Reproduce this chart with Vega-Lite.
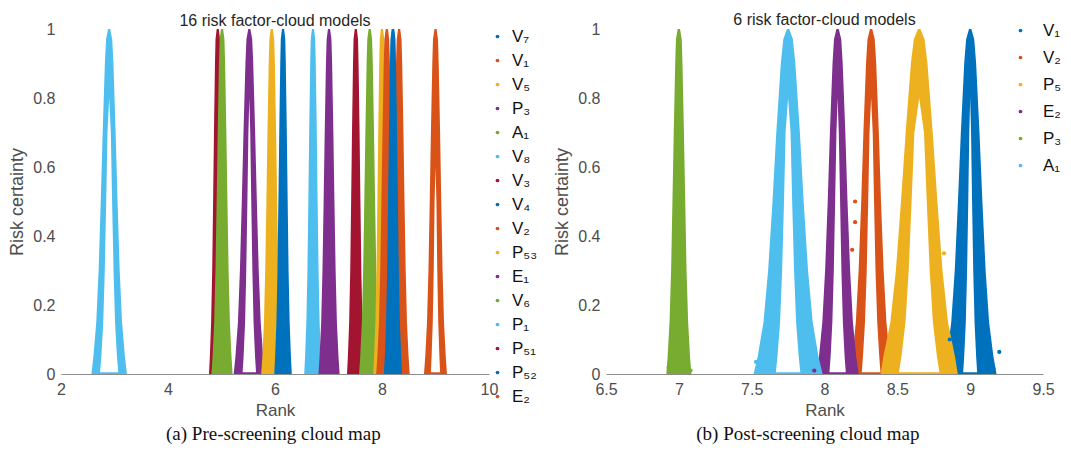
{
  "$schema": "https://vega.github.io/schema/vega-lite/v6.json",
  "background": "white",
  "padding": {"left": 8, "top": 12, "right": 0, "bottom": 0},
  "config": {
    "view": {"stroke": null},
    "axis": {"grid": false, "domainColor": "#8c8c8c", "tickColor": "#8c8c8c", "labelColor": "#4d4d4d", "titleColor": "#4d4d4d", "labelFont": "Liberation Sans", "titleFont": "Liberation Sans", "labelFontSize": 16, "titleFontSize": 17, "titleFontWeight": "normal"},
    "axisY": {"domain": false, "ticks": false, "labelPadding": 6, "titlePadding": 6, "titleFontSize": 18},
    "axisX": {"ticks": false, "labelPadding": 7, "titlePadding": 5, "labelFlush": false},
    "legend": {"title": null, "symbolType": "circle", "symbolSize": 14, "symbolStrokeWidth": 0, "labelFont": "Liberation Sans", "labelFontSize": 17, "labelColor": "#111111", "padding": 0},
    "title": {"font": "Liberation Sans", "fontSize": 16, "fontWeight": "normal", "color": "#262626"}
  },
  "datasets": {
    "A": [
      {"s":"V₈","y":1,"l":2.88,"h":2.92},{"s":"V₈","y":0.97,"l":2.843,"h":2.957},{"s":"V₈","y":0.9,"l":2.82,"h":2.98},{"s":"V₈","y":0.7,"l":2.779,"h":3.021},{"s":"V₈","y":0.5,"l":2.743,"h":3.057},{"s":"V₈","y":0.3,"l":2.703,"h":3.097},{"s":"V₈","y":0.15,"l":2.659,"h":3.141},{"s":"V₈","y":0.05,"l":2.605,"h":3.195},{"s":"V₈","y":0,"l":2.568,"h":3.232},
      {"s":"V₃","y":1,"l":4.91,"h":4.95},{"s":"V₃","y":0.97,"l":4.888,"h":4.972},{"s":"V₃","y":0.9,"l":4.878,"h":4.982},{"s":"V₃","y":0.7,"l":4.859,"h":5.001},{"s":"V₃","y":0.5,"l":4.843,"h":5.017},{"s":"V₃","y":0.3,"l":4.826,"h":5.034},{"s":"V₃","y":0.15,"l":4.806,"h":5.054},{"s":"V₃","y":0.05,"l":4.782,"h":5.078},{"s":"V₃","y":0,"l":4.766,"h":5.094},
      {"s":"A₁","y":1,"l":4.99,"h":5.03},{"s":"A₁","y":0.97,"l":4.965,"h":5.055},{"s":"A₁","y":0.9,"l":4.952,"h":5.068},{"s":"A₁","y":0.7,"l":4.929,"h":5.091},{"s":"A₁","y":0.5,"l":4.909,"h":5.111},{"s":"A₁","y":0.3,"l":4.887,"h":5.133},{"s":"A₁","y":0.15,"l":4.863,"h":5.157},{"s":"A₁","y":0.05,"l":4.833,"h":5.187},{"s":"A₁","y":0,"l":4.812,"h":5.208},
      {"s":"P₃","y":1,"l":5.5,"h":5.54},{"s":"P₃","y":0.97,"l":5.466,"h":5.574},{"s":"P₃","y":0.9,"l":5.447,"h":5.593},{"s":"P₃","y":0.7,"l":5.411,"h":5.629},{"s":"P₃","y":0.5,"l":5.379,"h":5.661},{"s":"P₃","y":0.3,"l":5.344,"h":5.696},{"s":"P₃","y":0.15,"l":5.307,"h":5.733},{"s":"P₃","y":0.05,"l":5.26,"h":5.78},{"s":"P₃","y":0,"l":5.227,"h":5.813},
      {"s":"V₅","y":1,"l":5.92,"h":5.96},{"s":"V₅","y":0.97,"l":5.895,"h":5.985},{"s":"V₅","y":0.9,"l":5.882,"h":5.998},{"s":"V₅","y":0.7,"l":5.859,"h":6.021},{"s":"V₅","y":0.5,"l":5.839,"h":6.041},{"s":"V₅","y":0.3,"l":5.817,"h":6.063},{"s":"V₅","y":0.15,"l":5.793,"h":6.087},{"s":"V₅","y":0.05,"l":5.763,"h":6.117},{"s":"V₅","y":0,"l":5.742,"h":6.138},
      {"s":"V₇","y":1,"l":6.13,"h":6.17},{"s":"V₇","y":0.97,"l":6.108,"h":6.192},{"s":"V₇","y":0.9,"l":6.098,"h":6.202},{"s":"V₇","y":0.7,"l":6.079,"h":6.221},{"s":"V₇","y":0.5,"l":6.063,"h":6.237},{"s":"V₇","y":0.3,"l":6.046,"h":6.254},{"s":"V₇","y":0.15,"l":6.026,"h":6.274},{"s":"V₇","y":0.05,"l":6.002,"h":6.298},{"s":"V₇","y":0,"l":5.986,"h":6.314},
      {"s":"P₁","y":1,"l":6.69,"h":6.73},{"s":"P₁","y":0.97,"l":6.668,"h":6.752},{"s":"P₁","y":0.9,"l":6.658,"h":6.762},{"s":"P₁","y":0.7,"l":6.639,"h":6.781},{"s":"P₁","y":0.5,"l":6.623,"h":6.797},{"s":"P₁","y":0.3,"l":6.606,"h":6.814},{"s":"P₁","y":0.15,"l":6.586,"h":6.834},{"s":"P₁","y":0.05,"l":6.562,"h":6.858},{"s":"P₁","y":0,"l":6.546,"h":6.874},
      {"s":"E₁","y":1,"l":6.99,"h":7.03},{"s":"E₁","y":0.97,"l":6.965,"h":7.055},{"s":"E₁","y":0.9,"l":6.952,"h":7.068},{"s":"E₁","y":0.7,"l":6.929,"h":7.091},{"s":"E₁","y":0.5,"l":6.909,"h":7.111},{"s":"E₁","y":0.3,"l":6.887,"h":7.133},{"s":"E₁","y":0.15,"l":6.863,"h":7.157},{"s":"E₁","y":0.05,"l":6.833,"h":7.187},{"s":"E₁","y":0,"l":6.812,"h":7.208},
      {"s":"P₅₁","y":1,"l":7.49,"h":7.53},{"s":"P₅₁","y":0.97,"l":7.468,"h":7.552},{"s":"P₅₁","y":0.9,"l":7.458,"h":7.562},{"s":"P₅₁","y":0.7,"l":7.439,"h":7.581},{"s":"P₅₁","y":0.5,"l":7.423,"h":7.597},{"s":"P₅₁","y":0.3,"l":7.406,"h":7.614},{"s":"P₅₁","y":0.15,"l":7.386,"h":7.634},{"s":"P₅₁","y":0.05,"l":7.362,"h":7.658},{"s":"P₅₁","y":0,"l":7.346,"h":7.674},
      {"s":"V₆","y":1,"l":7.75,"h":7.79},{"s":"V₆","y":0.97,"l":7.725,"h":7.815},{"s":"V₆","y":0.9,"l":7.712,"h":7.828},{"s":"V₆","y":0.7,"l":7.689,"h":7.851},{"s":"V₆","y":0.5,"l":7.669,"h":7.871},{"s":"V₆","y":0.3,"l":7.647,"h":7.893},{"s":"V₆","y":0.15,"l":7.623,"h":7.917},{"s":"V₆","y":0.05,"l":7.593,"h":7.947},{"s":"V₆","y":0,"l":7.572,"h":7.968},
      {"s":"P₅₃","y":1,"l":7.98,"h":8.02},{"s":"P₅₃","y":0.97,"l":7.958,"h":8.042},{"s":"P₅₃","y":0.9,"l":7.948,"h":8.052},{"s":"P₅₃","y":0.7,"l":7.929,"h":8.071},{"s":"P₅₃","y":0.5,"l":7.913,"h":8.087},{"s":"P₅₃","y":0.3,"l":7.896,"h":8.104},{"s":"P₅₃","y":0.15,"l":7.876,"h":8.124},{"s":"P₅₃","y":0.05,"l":7.852,"h":8.148},{"s":"P₅₃","y":0,"l":7.836,"h":8.164},
      {"s":"V₁","y":1,"l":8.07,"h":8.11},{"s":"V₁","y":0.97,"l":8.045,"h":8.135},{"s":"V₁","y":0.9,"l":8.032,"h":8.148},{"s":"V₁","y":0.7,"l":8.009,"h":8.171},{"s":"V₁","y":0.5,"l":7.989,"h":8.191},{"s":"V₁","y":0.3,"l":7.967,"h":8.213},{"s":"V₁","y":0.15,"l":7.943,"h":8.237},{"s":"V₁","y":0.05,"l":7.913,"h":8.267},{"s":"V₁","y":0,"l":7.892,"h":8.288},
      {"s":"V₂","y":1,"l":8.3,"h":8.34},{"s":"V₂","y":0.97,"l":8.275,"h":8.365},{"s":"V₂","y":0.9,"l":8.262,"h":8.378},{"s":"V₂","y":0.7,"l":8.239,"h":8.401},{"s":"V₂","y":0.5,"l":8.219,"h":8.421},{"s":"V₂","y":0.3,"l":8.197,"h":8.443},{"s":"V₂","y":0.15,"l":8.173,"h":8.467},{"s":"V₂","y":0.05,"l":8.143,"h":8.497},{"s":"V₂","y":0,"l":8.122,"h":8.518},
      {"s":"P₅₂","y":1,"l":8.18,"h":8.22},{"s":"P₅₂","y":0.97,"l":8.158,"h":8.242},{"s":"P₅₂","y":0.9,"l":8.148,"h":8.252},{"s":"P₅₂","y":0.7,"l":8.129,"h":8.271},{"s":"P₅₂","y":0.5,"l":8.113,"h":8.287},{"s":"P₅₂","y":0.3,"l":8.096,"h":8.304},{"s":"P₅₂","y":0.15,"l":8.076,"h":8.324},{"s":"P₅₂","y":0.05,"l":8.052,"h":8.348},{"s":"P₅₂","y":0,"l":8.036,"h":8.364},
      {"s":"V₄","y":1,"l":8.19,"h":8.23},{"s":"V₄","y":0.97,"l":8.168,"h":8.252},{"s":"V₄","y":0.9,"l":8.158,"h":8.262},{"s":"V₄","y":0.7,"l":8.139,"h":8.281},{"s":"V₄","y":0.5,"l":8.123,"h":8.297},{"s":"V₄","y":0.3,"l":8.106,"h":8.314},{"s":"V₄","y":0.15,"l":8.086,"h":8.334},{"s":"V₄","y":0.05,"l":8.062,"h":8.358},{"s":"V₄","y":0,"l":8.046,"h":8.374},
      {"s":"E₂","y":1,"l":8.98,"h":9.02},{"s":"E₂","y":0.97,"l":8.953,"h":9.047},{"s":"E₂","y":0.9,"l":8.94,"h":9.06},{"s":"E₂","y":0.7,"l":8.914,"h":9.086},{"s":"E₂","y":0.5,"l":8.892,"h":9.108},{"s":"E₂","y":0.3,"l":8.868,"h":9.132},{"s":"E₂","y":0.15,"l":8.841,"h":9.159},{"s":"E₂","y":0.05,"l":8.808,"h":9.192},{"s":"E₂","y":0,"l":8.785,"h":9.215}
    ],
    "AH": [
      {"s":"V₈","y":0.8,"l":2.9,"h":2.9},{"s":"V₈","y":0.7,"l":2.869,"h":2.931},{"s":"V₈","y":0.5,"l":2.845,"h":2.955},{"s":"V₈","y":0.3,"l":2.818,"h":2.982},{"s":"V₈","y":0.15,"l":2.79,"h":3.01},{"s":"V₈","y":0.05,"l":2.754,"h":3.046},{"s":"V₈","y":0.005,"l":2.73,"h":3.07},
      {"s":"P₃","y":0.8,"l":5.52,"h":5.52},{"s":"P₃","y":0.7,"l":5.503,"h":5.537},{"s":"P₃","y":0.5,"l":5.484,"h":5.556},{"s":"P₃","y":0.3,"l":5.463,"h":5.577},{"s":"P₃","y":0.15,"l":5.441,"h":5.599},{"s":"P₃","y":0.05,"l":5.413,"h":5.627},{"s":"P₃","y":0.005,"l":5.395,"h":5.645},
      {"s":"E₂","y":0.6,"l":9.0,"h":9.0},{"s":"E₂","y":0.5,"l":8.983,"h":9.017},{"s":"E₂","y":0.3,"l":8.967,"h":9.033},{"s":"E₂","y":0.15,"l":8.949,"h":9.051},{"s":"E₂","y":0.05,"l":8.927,"h":9.073},{"s":"E₂","y":0.005,"l":8.914,"h":9.086}
    ],
    "B": [
      {"s":"V₁","y":1,"l":8.992,"h":9.008},{"s":"V₁","y":0.97,"l":8.972,"h":9.028},{"s":"V₁","y":0.9,"l":8.959,"h":9.041},{"s":"V₁","y":0.7,"l":8.936,"h":9.064},{"s":"V₁","y":0.5,"l":8.916,"h":9.084},{"s":"V₁","y":0.3,"l":8.894,"h":9.106},{"s":"V₁","y":0.15,"l":8.87,"h":9.13},{"s":"V₁","y":0.05,"l":8.84,"h":9.16},{"s":"V₁","y":0,"l":8.819,"h":9.181},
      {"s":"V₂","y":1,"l":8.312,"h":8.328},{"s":"V₂","y":0.97,"l":8.295,"h":8.345},{"s":"V₂","y":0.9,"l":8.285,"h":8.355},{"s":"V₂","y":0.7,"l":8.267,"h":8.373},{"s":"V₂","y":0.5,"l":8.252,"h":8.388},{"s":"V₂","y":0.3,"l":8.234,"h":8.406},{"s":"V₂","y":0.15,"l":8.215,"h":8.425},{"s":"V₂","y":0.05,"l":8.192,"h":8.448},{"s":"V₂","y":0,"l":8.175,"h":8.465},
      {"s":"P₅","y":1,"l":8.642,"h":8.658},{"s":"P₅","y":0.97,"l":8.613,"h":8.687},{"s":"P₅","y":0.9,"l":8.593,"h":8.707},{"s":"P₅","y":0.7,"l":8.557,"h":8.743},{"s":"P₅","y":0.5,"l":8.525,"h":8.775},{"s":"P₅","y":0.3,"l":8.49,"h":8.81},{"s":"P₅","y":0.15,"l":8.452,"h":8.848},{"s":"P₅","y":0.05,"l":8.404,"h":8.896},{"s":"P₅","y":0,"l":8.385,"h":8.915},
      {"s":"E₂","y":1,"l":8.082,"h":8.098},{"s":"E₂","y":0.97,"l":8.065,"h":8.115},{"s":"E₂","y":0.9,"l":8.055,"h":8.125},{"s":"E₂","y":0.7,"l":8.037,"h":8.143},{"s":"E₂","y":0.5,"l":8.022,"h":8.158},{"s":"E₂","y":0.3,"l":8.004,"h":8.176},{"s":"E₂","y":0.15,"l":7.985,"h":8.195},{"s":"E₂","y":0.05,"l":7.962,"h":8.218},{"s":"E₂","y":0,"l":7.945,"h":8.235},
      {"s":"P₃","y":1,"l":6.992,"h":7.008},{"s":"P₃","y":0.97,"l":6.98,"h":7.02},{"s":"P₃","y":0.9,"l":6.975,"h":7.025},{"s":"P₃","y":0.7,"l":6.965,"h":7.035},{"s":"P₃","y":0.5,"l":6.956,"h":7.044},{"s":"P₃","y":0.3,"l":6.947,"h":7.053},{"s":"P₃","y":0.15,"l":6.936,"h":7.064},{"s":"P₃","y":0.05,"l":6.923,"h":7.077},{"s":"P₃","y":0,"l":6.914,"h":7.086},
      {"s":"A₁","y":1,"l":7.742,"h":7.758},{"s":"A₁","y":0.97,"l":7.717,"h":7.783},{"s":"A₁","y":0.9,"l":7.7,"h":7.8},{"s":"A₁","y":0.7,"l":7.669,"h":7.831},{"s":"A₁","y":0.5,"l":7.643,"h":7.857},{"s":"A₁","y":0.3,"l":7.613,"h":7.887},{"s":"A₁","y":0.15,"l":7.581,"h":7.919},{"s":"A₁","y":0.05,"l":7.541,"h":7.959},{"s":"A₁","y":0,"l":7.513,"h":7.987}
    ],
    "BH": [
      {"s":"V₁","y":0.8,"l":9.0,"h":9.0},{"s":"V₁","y":0.7,"l":8.994,"h":9.006},{"s":"V₁","y":0.5,"l":8.987,"h":9.013},{"s":"V₁","y":0.3,"l":8.979,"h":9.021},{"s":"V₁","y":0.15,"l":8.97,"h":9.03},{"s":"V₁","y":0.05,"l":8.959,"h":9.041},{"s":"V₁","y":0.005,"l":8.952,"h":9.048},
      {"s":"V₂","y":0.8,"l":8.32,"h":8.32},{"s":"V₂","y":0.7,"l":8.309,"h":8.331},{"s":"V₂","y":0.5,"l":8.3,"h":8.34},{"s":"V₂","y":0.3,"l":8.29,"h":8.35},{"s":"V₂","y":0.15,"l":8.278,"h":8.362},{"s":"V₂","y":0.05,"l":8.264,"h":8.376},{"s":"V₂","y":0.005,"l":8.256,"h":8.384},
      {"s":"P₅","y":0.8,"l":8.65,"h":8.65},{"s":"P₅","y":0.7,"l":8.617,"h":8.683},{"s":"P₅","y":0.5,"l":8.598,"h":8.702},{"s":"P₅","y":0.3,"l":8.578,"h":8.722},{"s":"P₅","y":0.15,"l":8.556,"h":8.744},{"s":"P₅","y":0.05,"l":8.528,"h":8.772},{"s":"P₅","y":0.005,"l":8.511,"h":8.789},
      {"s":"E₂","y":0.8,"l":8.09,"h":8.09},{"s":"E₂","y":0.7,"l":8.082,"h":8.098},{"s":"E₂","y":0.5,"l":8.073,"h":8.107},{"s":"E₂","y":0.3,"l":8.064,"h":8.116},{"s":"E₂","y":0.15,"l":8.054,"h":8.126},{"s":"E₂","y":0.05,"l":8.042,"h":8.138},{"s":"E₂","y":0.005,"l":8.034,"h":8.146},
      {"s":"A₁","y":0.8,"l":7.75,"h":7.75},{"s":"A₁","y":0.7,"l":7.733,"h":7.767},{"s":"A₁","y":0.5,"l":7.722,"h":7.778},{"s":"A₁","y":0.3,"l":7.709,"h":7.791},{"s":"A₁","y":0.15,"l":7.695,"h":7.805},{"s":"A₁","y":0.05,"l":7.677,"h":7.823},{"s":"A₁","y":0.005,"l":7.666,"h":7.834}
    ],
    "BP": [
      {"s":"V₂","x":8.21,"y":0.5},{"s":"V₂","x":8.21,"y":0.44},{"s":"V₂","x":8.19,"y":0.36},
      {"s":"V₁","x":9.2,"y":0.064},{"s":"V₁","x":9.16,"y":0.015},{"s":"V₁","x":8.86,"y":0.1},
      {"s":"A₁","x":7.53,"y":0.035},{"s":"A₁","x":7.9,"y":0.02},{"s":"A₁","x":7.58,"y":0.08},
      {"s":"E₂","x":7.93,"y":0.01},{"s":"E₂","x":8.2,"y":0.03},
      {"s":"P₅","x":8.88,"y":0.02},{"s":"P₅","x":8.86,"y":0.05},{"s":"P₅","x":8.78,"y":0.3},{"s":"P₅","x":8.82,"y":0.35},
      {"s":"P₃","x":7.08,"y":0.01},{"s":"P₃","x":6.93,"y":0.02}
    ]
  },
  "spacing": 15,
  "resolve": {"scale": {"color": "independent"}},
  "hconcat": [
    {
      "title": {"text": "(a) Pre-screening cloud map", "orient": "bottom", "font": "Liberation Serif", "fontSize": 19, "color": "#111111", "offset": 7, "anchor": "middle"},
      "vconcat": [
        {
          "width": 428,
          "height": 345,
          "title": {"text": "16 risk factor-cloud models", "frame": "group", "offset": 0, "dy": 8},
          "layer": [
            {
              "data": {"name": "A"},
              "mark": {"type": "area", "orient": "horizontal", "opacity": 1},
              "encoding": {
                "y": {"field": "y", "type": "quantitative", "title": "Risk certainty", "scale": {"domain": [0, 1], "nice": false}, "axis": {"values": [0, 0.2, 0.4, 0.6, 0.8, 1], "format": "~r"}},
                "x": {"field": "l", "type": "quantitative", "title": "Rank", "scale": {"domain": [2, 10], "nice": false, "zero": false}, "axis": {"values": [2, 4, 6, 8, 10], "format": "~r"}},
                "x2": {"field": "h"},
                "color": {"field": "s", "type": "nominal", "scale": {"domain": ["V₇","V₁","V₅","P₃","A₁","V₈","V₃","V₄","V₂","P₅₃","E₁","V₆","P₁","P₅₁","P₅₂","E₂"], "range": ["#0072BD","#D95319","#EDB120","#7E2F8E","#77AC30","#4DBEEE","#A2142F","#0072BD","#D95319","#EDB120","#7E2F8E","#77AC30","#4DBEEE","#A2142F","#0072BD","#D95319"]}, "legend": {"orient": "none", "legendX": 428, "legendY": -1, "rowPadding": 6, "labelOffset": 6}}
              }
            },
            {
              "data": {"name": "AH"},
              "mark": {"type": "area", "orient": "horizontal", "opacity": 1, "color": "white"},
              "encoding": {
                "y": {"field": "y", "type": "quantitative"},
                "x": {"field": "l", "type": "quantitative"},
                "x2": {"field": "h"},
                "detail": {"field": "s", "type": "nominal"}
              }
            }
          ]
        }
      ]
    },
    {
      "title": {"text": "(b) Post-screening cloud map", "orient": "bottom", "font": "Liberation Serif", "fontSize": 19, "color": "#111111", "offset": 7, "anchor": "middle"},
      "vconcat": [
        {
          "width": 437,
          "height": 345,
          "title": {"text": "6 risk factor-cloud models", "frame": "group", "offset": 0, "dy": 7},
          "layer": [
            {
              "data": {"name": "B"},
              "mark": {"type": "area", "orient": "horizontal", "opacity": 1},
              "encoding": {
                "y": {"field": "y", "type": "quantitative", "title": "Risk certainty", "scale": {"domain": [0, 1], "nice": false}, "axis": {"values": [0, 0.2, 0.4, 0.6, 0.8, 1], "format": "~r"}},
                "x": {"field": "l", "type": "quantitative", "title": "Rank", "scale": {"domain": [6.5, 9.5], "nice": false, "zero": false}, "axis": {"values": [6.5, 7, 7.5, 8, 8.5, 9, 9.5], "format": "~r"}},
                "x2": {"field": "h"},
                "color": {"field": "s", "type": "nominal", "scale": {"domain": ["V₁","V₂","P₅","E₂","P₃","A₁"], "range": ["#0072BD","#D95319","#EDB120","#7E2F8E","#77AC30","#4DBEEE"]}, "legend": {"orient": "none", "legendX": 406, "legendY": -7, "rowPadding": 9, "labelOffset": 14}}
              }
            },
            {
              "data": {"name": "BH"},
              "mark": {"type": "area", "orient": "horizontal", "opacity": 1, "color": "white"},
              "encoding": {
                "y": {"field": "y", "type": "quantitative"},
                "x": {"field": "l", "type": "quantitative"},
                "x2": {"field": "h"},
                "detail": {"field": "s", "type": "nominal"}
              }
            },
            {
              "data": {"name": "BP"},
              "mark": {"type": "point", "filled": true, "size": 18, "opacity": 1},
              "encoding": {
                "y": {"field": "y", "type": "quantitative"},
                "x": {"field": "x", "type": "quantitative"},
                "color": {"field": "s", "type": "nominal"}
              }
            }
          ]
        }
      ]
    }
  ]
}
